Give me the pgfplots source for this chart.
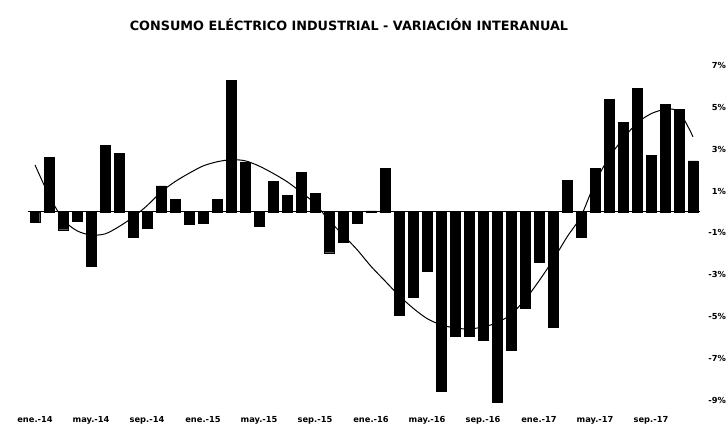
\documentclass[border=0pt]{standalone}
\usepackage{pgfplots}
\pgfplotsset{compat=1.18}
\usepackage{fontspec}
\setmainfont{DejaVu Sans}
\begin{document}
\begin{tikzpicture}[x=1pt,y=1pt]
\useasboundingbox (0,0) rectangle (727,428);
\node[font=\bfseries\fontsize{12.8}{14}\selectfont] at (349,403) {CONSUMO ELÉCTRICO INDUSTRIAL - VARIACIÓN INTERANUAL};
\begin{axis}[
  at={(28pt,17.5pt)}, anchor=south west,
  scale only axis, width=672pt, height=351.1pt,
  xmin=0.5, xmax=48.5, ymin=-9.5, ymax=7.3,
  axis line style={draw=none},
  major tick style={draw=none},
  xtick={1,5,9,13,17,21,25,29,33,37,41,45},
  xticklabels={ene.-14,may.-14,sep.-14,ene.-15,may.-15,sep.-15,ene.-16,may.-16,sep.-16,ene.-17,may.-17,sep.-17},
  xticklabel style={font=\bfseries\fontsize{8.3}{10}\selectfont, yshift=-2pt},
  ytick={-9,-7,-5,-3,-1,1,3,5,7},
  yticklabels={-9\%,-7\%,-5\%,-3\%,-1\%,1\%,3\%,5\%,7\%},
  yticklabel pos=right,
  yticklabel style={font=\bfseries\fontsize{8.3}{10}\selectfont, anchor=east, xshift=29.5pt},
  extra y ticks={0}, extra y tick labels={},
  extra y tick style={grid=major, major grid style={black, line width=1pt}},
  clip=false,
]
\addplot[ybar, bar width=9.5pt, fill=black, draw=black] coordinates {
(1,-0.5) (2,2.6) (3,-0.85) (4,-0.45) (5,-2.6) (6,3.2) (7,2.8) (8,-1.2)
(9,-0.8) (10,1.25) (11,0.6) (12,-0.6) (13,-0.55) (14,0.6) (15,6.3) (16,2.4)
(17,-0.7) (18,1.45) (19,0.8) (20,1.9) (21,0.9) (22,-1.95) (23,-1.45) (24,-0.55)
(25,0.05) (26,2.1) (27,-4.95) (28,-4.1) (29,-2.85) (30,-8.6) (31,-5.95) (32,-5.95)
(33,-6.15) (34,-9.1) (35,-6.6) (36,-4.6) (37,-2.4) (38,-5.5) (39,1.5) (40,-1.2)
(41,2.1) (42,5.4) (43,4.3) (44,5.9) (45,2.7) (46,5.15) (47,4.9) (48,2.45)
};
\addplot[black, line width=1pt, smooth, no markers] coordinates {
(1,2.25) (2,0.8) (3,-0.35) (4,-0.9) (5,-1.1) (6,-1.05) (7,-0.7) (8,-0.25)
(9,0.3) (10,0.95) (11,1.45) (12,1.85) (13,2.2) (14,2.4) (15,2.5) (16,2.45)
(17,2.2) (18,1.85) (19,1.45) (20,0.95) (21,0.4) (22,-0.4) (23,-1.1) (24,-1.8)
(25,-2.6) (26,-3.3) (27,-4.0) (28,-4.6) (29,-5.1) (30,-5.4) (31,-5.55) (32,-5.6)
(33,-5.5) (34,-5.3) (35,-4.9) (36,-4.2) (37,-3.3) (38,-2.3) (39,-1.2) (40,-0.2)
(41,1.4) (42,2.6) (43,3.5) (44,4.25) (45,4.7) (46,4.9) (47,4.8) (48,3.6)
};
\end{axis}
\end{tikzpicture}
\end{document}
